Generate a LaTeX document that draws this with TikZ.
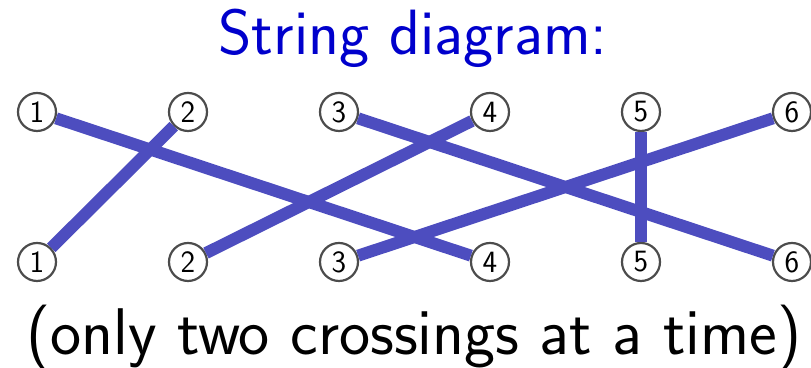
\documentclass[tikz,border=0pt]{standalone}
\usepackage{fontspec}
\usepackage{xcolor}
\usepackage{tikz}
\usetikzlibrary{positioning}

\definecolor{wireblue}{RGB}{77,77,191}
\definecolor{titleblue}{RGB}{0,0,204}

\begin{document}
\begin{tikzpicture}[
    on grid,
    node distance=75pt and 75.5pt,
    port/.style={circle, draw=black!70, line width=1.1pt, fill=white, minimum size=19pt, inner sep=0pt, font=\sffamily\fontsize{15.5}{15.5}\selectfont},
    wire/.style={line width=6pt, draw=wireblue},
    heading/.style={font=\sffamily\fontsize{32}{38}\selectfont, text=titleblue, anchor=base},
    note/.style={font=\sffamily\fontsize{33}{40}\selectfont, anchor=base}
]
\useasboundingbox (-18.5pt,56pt) rectangle (387pt,-128pt);

\node[heading] (title) at (188pt,28.5pt) {String diagram:};

% top row
\node[port] (t1) at (0,0) {1};
\node[port, right=of t1] (t2) {2};
\node[port, right=of t2] (t3) {3};
\node[port, right=of t3] (t4) {4};
\node[port, right=of t4] (t5) {5};
\node[port, right=of t5] (t6) {6};

% bottom row
\node[port, below=of t1] (b1) {1};
\node[port, right=of b1] (b2) {2};
\node[port, right=of b2] (b3) {3};
\node[port, right=of b3] (b4) {4};
\node[port, right=of b4] (b5) {5};
\node[port, right=of b5] (b6) {6};

\draw[wire] (t1) -- (b4);
\draw[wire] (t2) -- (b1);
\draw[wire] (t3) -- (b6);
\draw[wire] (t4) -- (b2);
\draw[wire] (t5) -- (b5);
\draw[wire] (t6) -- (b3);

\node[note] (remark) at (188.5pt,-121.5pt) {(only two crossings at a time)};
\end{tikzpicture}
\end{document}
